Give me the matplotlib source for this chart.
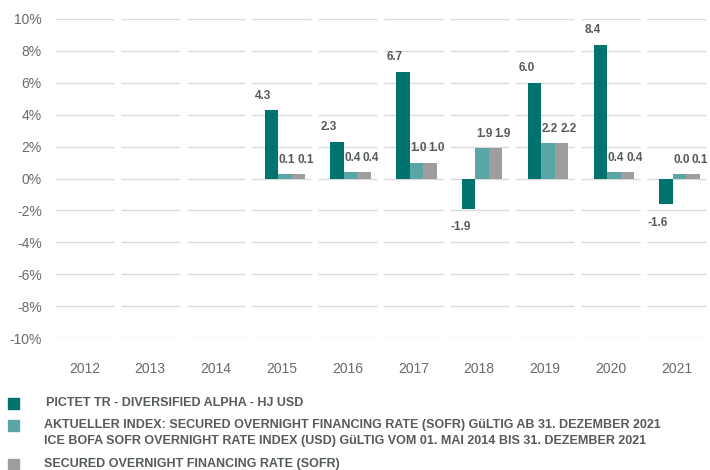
import numpy as np
import matplotlib
matplotlib.use("Agg")
import matplotlib.pyplot as plt

# -------- DATA --------
years = ["2012", "2013", "2014", "2015", "2016", "2017", "2018", "2019", "2020", "2021"]
fund = [None, None, None, 4.3, 2.3, 6.7, -1.9, 6.0, 8.4, -1.6]
index_now = [None, None, None, 0.1, 0.4, 1.0, 1.9, 2.2, 0.4, 0.0]
sofr = [None, None, None, 0.1, 0.4, 1.0, 1.9, 2.2, 0.4, 0.1]
yticks = [-10, -8, -6, -4, -2, 0, 2, 4, 6, 8, 10]

legend_labels = [
    "PICTET TR - DIVERSIFIED ALPHA - HJ USD",
    "AKTUELLER INDEX: SECURED OVERNIGHT FINANCING RATE (SOFR) GüLTIG AB 31. DEZEMBER 2021\n"
    "ICE BOFA SOFR OVERNIGHT RATE INDEX (USD) GüLTIG VOM 01. MAI 2014 BIS 31. DEZEMBER 2021",
    "SECURED OVERNIGHT FINANCING RATE (SOFR)",
]

colors = ["#00736f", "#5aa6a7", "#9d9d9d"]
text_col = "#555a5c"
tick_col = "#666b6d"
FONT = ["Liberation Sans", "DejaVu Sans"]

# -------- FIGURE --------
fig = plt.figure(figsize=(7.1, 4.7), dpi=100)
ax = fig.add_axes([51.5 / 710, 132 / 470, 658 / 710, 319 / 470])

x = np.arange(len(years))
bw = 0.205
shift = 0.045

# segmented gridlines, one piece per category
for yv in yticks:
    ax.hlines([yv] * len(x), x - 0.447, x + 0.447, color="#dadada", lw=1.0, zorder=0)

series = [fund, index_now, sofr]
label_dx = [-8, 2, 7]  # px offsets of value labels
for k, vals in enumerate(series):
    for i, v in enumerate(vals):
        if v is None:
            continue
        xpos = x[i] + shift + (k - 1) * bw
        h = v if abs(v) >= 0.28 else 0.28  # tiny values still get a visible sliver
        ax.bar(xpos, h, width=bw, color=colors[k], zorder=2, linewidth=0)
        if v >= 0:
            ax.annotate(f"{v:.1f}", (xpos, h), xytext=(label_dx[k] * 0.72, 6),
                        textcoords="offset points", ha="center", va="bottom",
                        fontsize=8.5, color=text_col, fontweight="bold",
                        family=FONT, annotation_clip=False)
        else:
            ax.annotate(f"{v:.1f}", (xpos, h), xytext=(label_dx[k] * 0.72, -9),
                        textcoords="offset points", ha="center", va="top",
                        fontsize=8.5, color=text_col, fontweight="bold",
                        family=FONT, annotation_clip=False)

ax.set_xlim(-0.5, len(years) - 0.5)
ax.set_ylim(-10, 10)
ax.set_yticks(yticks)
ax.set_yticklabels([f"{t}%" for t in yticks], fontsize=10, color=tick_col, family=FONT)
ax.set_xticks(x)
ax.set_xticklabels(years, fontsize=10, color=tick_col, family=FONT)
ax.tick_params(length=0, axis="y", pad=7)
ax.tick_params(length=0, axis="x", pad=17)
for s in ax.spines.values():
    s.set_visible(False)

# -------- LEGEND --------
leg_y = [403, 425, 464]
for k, (lab, yy) in enumerate(zip(legend_labels, leg_y)):
    fig.patches.append(plt.Rectangle((8 / 710, 1 - (yy + 6) / 470), 11 / 710, 11 / 470,
                                     transform=fig.transFigure, color=colors[k], figure=fig))
    for j, line in enumerate(lab.split("\n")):
        fig.text((44 if k else 46) / 710, 1 - (yy + 16 * j) / 470, line, ha="left",
                 va="center", fontsize=9, fontweight="bold", color=text_col, family=FONT)

fig.savefig("out.png", dpi=100)
